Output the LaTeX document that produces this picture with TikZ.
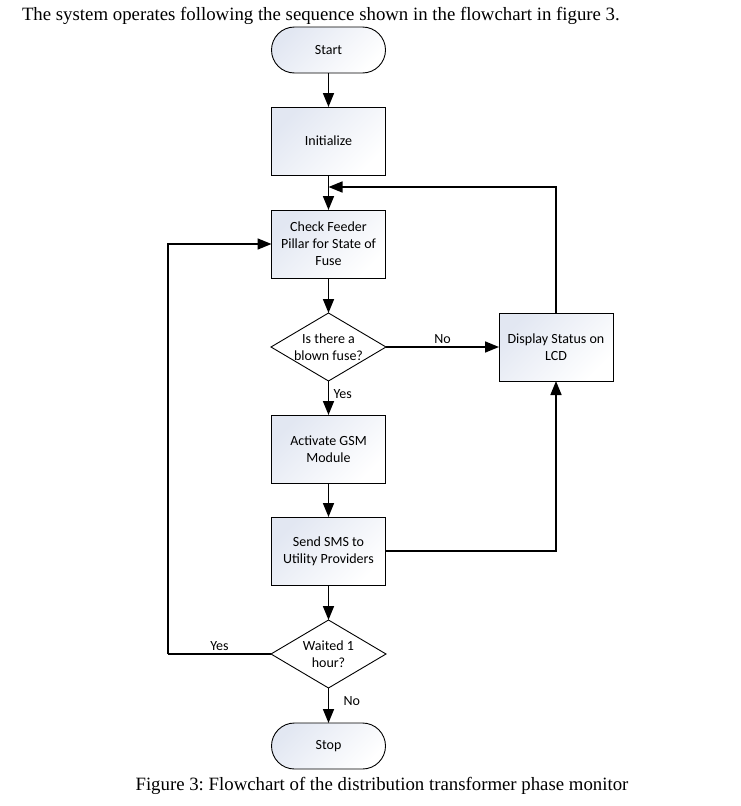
\documentclass[tikz,border=0pt]{standalone}
\usepackage{fontspec}
\setmainfont{Liberation Serif}
\newfontfamily\boxfont{Carlito}
\usetikzlibrary{arrows.meta,shapes.geometric,calc}
\definecolor{boxblue}{HTML}{E2E7F2}
\tikzset{
  every node/.style={inner sep=0pt, outer sep=0pt},
  basebox/.style={draw=black, line width=0.9pt, minimum width=114pt, minimum height=68pt,
    top color=boxblue, bottom color=white, shading angle=45,
    font=\boxfont\fontsize{14pt}{17pt}\selectfont, align=center},
  procbox/.style={basebox, rectangle},
  termbox/.style={basebox, rectangle, rounded corners=23pt, minimum height=46pt},
  diabox/.style={draw=black, line width=0.9pt, diamond, minimum width=115pt, minimum height=68pt, fill=white},
  diatext/.style={font=\boxfont\fontsize{14pt}{17pt}\selectfont, align=center},
  lbl/.style={font=\boxfont\fontsize{14pt}{17pt}\selectfont},
  conn/.style={line width=1.6pt, -{Triangle[length=14pt,width=11pt]}},
  plain/.style={line width=1.6pt},
}
\begin{document}
\frenchspacing
\begin{tikzpicture}[x=1pt,y=-1pt]
\useasboundingbox (0,0) rectangle (740,806);

\node[anchor=base west, font=\fontsize{18.8pt}{22pt}\selectfont] (intro) at (22,20.5)
  {The system operates following the sequence shown in the flowchart in figure 3.};

\node[termbox] (start) at (328.5,50) {Start};
\node[procbox] (init) at (328.5,141) {Initialize};
\node[procbox] (check) at (328.5,244) {Check Feeder\\Pillar for State of\\Fuse};
\node[diabox] (d1) at (328.5,347) {};
\node[diatext] (d1t) at (328.5,347) {Is there a\\blown fuse?};
\node[procbox] (disp) at (556,347) {Display Status on\\LCD};
\node[procbox] (act) at (328.5,449) {Activate GSM\\Module};
\node[procbox] (sms) at (328.5,551) {Send SMS to\\Utility Providers};
\node[diabox] (d2) at (328.5,654) {};
\node[diatext] (d2t) at (328.5,654) {Waited 1\\hour?};
\node[termbox] (stop) at (328.5,746) {Stop};

\coordinate (fb) at (328.5,187);
\coordinate (lp) at (168,654);

\draw[conn] (start) -- (init);
\draw[conn] (init) -- (check);
\draw[conn] (check) -- (d1.north);
\draw[conn] (d1.east) -- node[lbl, above, yshift=3pt] (no1) {No} (disp.west);
\draw[conn] (d1.south) -- node[lbl, pos=0.38, right, xshift=5pt] (yes1) {Yes} (act);
\draw[conn] (act) -- (sms);
\draw[conn] (sms) -- (d2.north);
\draw[conn] (d2.south) -- node[lbl, pos=0.37, right, xshift=15pt] (no2) {No} (stop);
\draw[conn] (sms.east) -| (disp.south);
\draw[conn] (disp.north) |- (fb);
\draw[plain] (d2.west) -- node[lbl, above, yshift=3pt] (yes2) {Yes} (lp);
\draw[conn] (lp) |- (check.west);

\node[anchor=base, font=\fontsize{18.8pt}{22pt}\selectfont] (caption) at (382,790)
  {Figure 3: Flowchart of the distribution transformer phase monitor};
\end{tikzpicture}
\end{document}
